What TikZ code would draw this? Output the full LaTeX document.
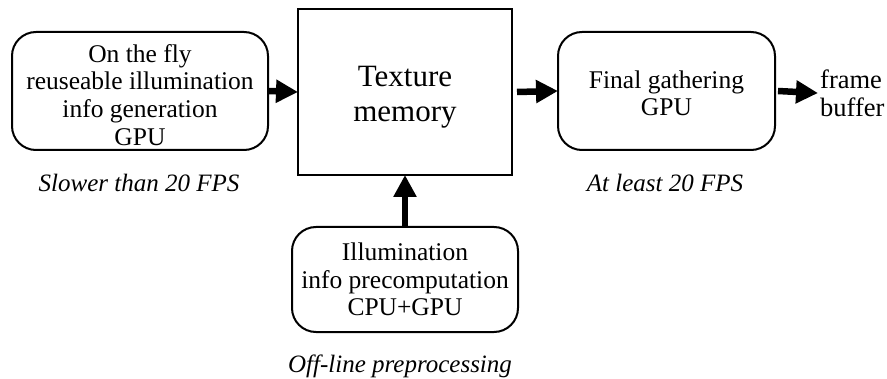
\documentclass[tikz,border=0pt]{standalone}
\usepackage{fontspec}
\setmainfont{Liberation Serif}
\usetikzlibrary{arrows.meta,positioning}
\newcommand\boxstrut[1]{\rule{0pt}{#1}}
\tikzset{
    roundbox/.style={draw, line width=2pt, rounded corners=24pt, align=center, font=\fontsize{25.5}{27.7}\selectfont, inner sep=0pt},
    flowarrow/.style={line width=6.5pt, -{Triangle[length=22pt,width=22pt]}, shorten >=-1pt},
    ratelabel/.style={font=\fontsize{25}{27}\selectfont\itshape, anchor=base, inner sep=0pt}
}

\begin{document}
\begin{tikzpicture}[x=1pt,y=1pt]
\useasboundingbox (0,0) rectangle (887,378);
\node[roundbox, minimum width=256pt, minimum height=118pt] (gen) at (140,287) {\boxstrut{25.5pt}On the fly\\reuseable illumination\\info generation\\GPU};
\node[draw, line width=2pt, minimum width=214pt, minimum height=166pt, align=center, font=\fontsize{31}{35}\selectfont] (tex) at (405,286) {\boxstrut{30.5pt}Texture\\memory};
\node[roundbox, minimum width=217pt, minimum height=118pt] (fin) at (666.5,287) {\boxstrut{22.5pt}Final gathering\\GPU};
\node[roundbox, minimum width=226pt, minimum height=105pt] (pre) at (405,98.5) {Illumination\\info precomputation\\CPU+GPU};
\node[align=left, font=\fontsize{26.5}{28}\selectfont, inner sep=0pt, anchor=west] (buf) at (820,285) {frame\\buffer};

\node[ratelabel] (slow) at (139,186) {Slower than 20 FPS};
\node[ratelabel] (least) at (665,186) {At least 20 FPS};
\node[ratelabel] (off) at (400,6) {Off-line preprocessing};

\draw[flowarrow] (gen.east) -- (tex.west);
\draw[flowarrow] ([xshift=4pt]tex.east) -- (fin.west);
\draw[flowarrow] ([xshift=2pt]fin.east) -- ([xshift=-3pt]buf.west);
\draw[flowarrow] (pre.north) -- (tex.south);
\end{tikzpicture}
\end{document}
